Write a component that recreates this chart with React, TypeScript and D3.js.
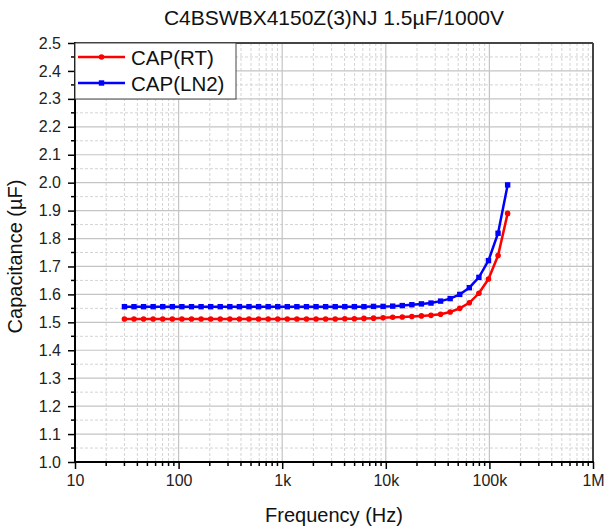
import * as d3 from "d3";
import { useEffect, useRef } from "react";

// sweep frequencies (Hz)
const freqHz = [
  30, 37.1, 45.9, 56.8, 70.3, 87.0, 107.6, 133.2, 164.8, 203.9, 252.3, 312.3,
  386.4, 478.1, 591.5, 731.9, 905.6, 1120, 1386, 1715, 2122, 2625, 3248, 4019,
  4973, 6153, 7613, 9420, 11655, 14421, 17843, 22070, 27308, 33789, 41807,
  51727, 64001, 79188, 97979, 121228, 150000,
];

// capacitance (uF) at room temperature
const capRT = [
  1.512, 1.512, 1.512, 1.512, 1.512, 1.512, 1.512, 1.512, 1.512, 1.512, 1.512,
  1.512, 1.512, 1.512, 1.512, 1.512, 1.512, 1.512, 1.512, 1.512, 1.512, 1.512,
  1.512, 1.513, 1.513, 1.514, 1.515, 1.516, 1.518, 1.519, 1.521, 1.523, 1.525,
  1.529, 1.537, 1.55, 1.57, 1.604, 1.655, 1.739, 1.89,
];

// capacitance (uF) in liquid nitrogen
const capLN2 = [
  1.556, 1.556, 1.556, 1.556, 1.556, 1.556, 1.556, 1.556, 1.556, 1.556, 1.556,
  1.556, 1.556, 1.556, 1.556, 1.556, 1.556, 1.556, 1.556, 1.556, 1.556, 1.556,
  1.556, 1.556, 1.556, 1.556, 1.557, 1.557, 1.558, 1.56, 1.563, 1.566, 1.569,
  1.576, 1.585, 1.6, 1.624, 1.661, 1.721, 1.819, 1.992,
];

const seriesNames = ["CAP(RT)", "CAP(LN2)"];
const xTickValues = [10, 100, 1000, 10000, 100000, 1000000];
const xTickLabels = ["10", "100", "1k", "10k", "100k", "1M"];
const chartTitle = "C4BSWBX4150Z(3)NJ 1.5\u00b5F/1000V";

const App = () => {
  const ref = useRef<SVGSVGElement>(null);

  useEffect(() => {
    const W = 605,
      H = 527;
    const margin = { top: 43, right: 12, bottom: 65, left: 75 };
    const width = W - margin.left - margin.right,
      height = H - margin.top - margin.bottom;
    const font = "Arial, 'Liberation Sans', sans-serif";

    const svg = d3.select(ref.current);
    svg.selectAll("*").remove();

    const x = d3.scaleLog().domain([10, 1e6]).range([0, width]);
    const y = d3.scaleLinear().domain([1.0, 2.5]).range([height, 0]);

    const g = svg
      .append("g")
      .attr("transform", `translate(${margin.left},${margin.top})`);

    // minor grid
    const xMinor: number[] = [];
    for (let dec = 10; dec < 1e6; dec *= 10)
      for (let m = 2; m <= 9; m++) xMinor.push(dec * m);
    const yMajor = d3.range(0, 16).map((i) => 1 + i * 0.1);
    const yMinor = d3.range(0, 15).map((i) => 1.05 + i * 0.1);

    g.selectAll("line.xminor")
      .data(xMinor)
      .join("line")
      .attr("x1", (d) => x(d))
      .attr("x2", (d) => x(d))
      .attr("y1", 0)
      .attr("y2", height)
      .attr("stroke", "#d4d4d4")
      .attr("stroke-dasharray", "3,2");
    g.selectAll("line.yminor")
      .data(yMinor)
      .join("line")
      .attr("x1", 0)
      .attr("x2", width)
      .attr("y1", (d) => y(d))
      .attr("y2", (d) => y(d))
      .attr("stroke", "#d4d4d4")
      .attr("stroke-dasharray", "3,2");

    // major grid
    g.selectAll("line.xmajor")
      .data(xTickValues)
      .join("line")
      .attr("x1", (d) => x(d))
      .attr("x2", (d) => x(d))
      .attr("y1", 0)
      .attr("y2", height)
      .attr("stroke", "#c4c4c4")
      .attr("stroke-width", 1.2);
    g.selectAll("line.ymajor")
      .data(yMajor)
      .join("line")
      .attr("x1", 0)
      .attr("x2", width)
      .attr("y1", (d) => y(d))
      .attr("y2", (d) => y(d))
      .attr("stroke", "#c4c4c4")
      .attr("stroke-width", 1.2);

    // frame top / right
    g.append("line")
      .attr("x1", 0)
      .attr("x2", width)
      .attr("y1", 0)
      .attr("y2", 0)
      .attr("stroke", "#444")
      .attr("stroke-width", 2);
    g.append("line")
      .attr("x1", width)
      .attr("x2", width)
      .attr("y1", 0)
      .attr("y2", height)
      .attr("stroke", "#444")
      .attr("stroke-width", 2);

    // axes
    const xAxis = g.append("g").attr("transform", `translate(0,${height})`);
    xAxis
      .call(
        d3
          .axisBottom(x)
          .tickValues(xTickValues)
          .tickFormat((_, i) => xTickLabels[i])
          .tickSize(7)
          .tickPadding(6)
      )
      .call((a) => a.select(".domain").remove());
    xAxis
      .selectAll("line.mt")
      .data(xMinor)
      .join("line")
      .attr("class", "mt")
      .attr("x1", (d) => x(d))
      .attr("x2", (d) => x(d))
      .attr("y1", 0)
      .attr("y2", 4)
      .attr("stroke", "#000")
      .attr("stroke-width", 1.5);
    xAxis.selectAll(".tick line").attr("stroke-width", 1.5);
    xAxis
      .selectAll(".tick text")
      .attr("font-family", font)
      .attr("font-size", 16)
      .attr("fill", "#222");
    xAxis
      .append("line")
      .attr("x1", -1)
      .attr("x2", width + 1)
      .attr("stroke", "#000")
      .attr("stroke-width", 2);

    const yAxis = g.append("g");
    yAxis
      .call(
        d3
          .axisLeft(y)
          .tickValues(yMajor)
          .tickFormat(d3.format(".1f"))
          .tickSize(7)
          .tickPadding(7)
      )
      .call((a) => a.select(".domain").remove());
    yAxis
      .selectAll("line.mt")
      .data(yMinor)
      .join("line")
      .attr("class", "mt")
      .attr("x1", -4)
      .attr("x2", 0)
      .attr("y1", (d) => y(d))
      .attr("y2", (d) => y(d))
      .attr("stroke", "#000")
      .attr("stroke-width", 1.5);
    yAxis.selectAll(".tick line").attr("stroke-width", 1.5);
    yAxis
      .selectAll(".tick text")
      .attr("font-family", font)
      .attr("font-size", 16)
      .attr("fill", "#222");
    yAxis
      .append("line")
      .attr("y1", -1)
      .attr("y2", height + 1)
      .attr("stroke", "#000")
      .attr("stroke-width", 2);

    // series
    const series = [
      { name: seriesNames[0], values: capRT, color: "#ff0000", marker: "circle" },
      { name: seriesNames[1], values: capLN2, color: "#0000ff", marker: "square" },
    ];
    const line = d3
      .line<number>()
      .x((_, i) => x(freqHz[i]))
      .y((d) => y(d));

    const drawMarker = (sel: any, s: any, cx: number, cy: number) => {
      if (s.marker === "circle")
        sel.append("circle").attr("cx", cx).attr("cy", cy).attr("r", 2.8).attr("fill", s.color);
      else
        sel
          .append("rect")
          .attr("x", cx - 2.7)
          .attr("y", cy - 2.7)
          .attr("width", 5.4)
          .attr("height", 5.4)
          .attr("fill", s.color);
    };

    series.forEach((s) => {
      g.append("path")
        .datum(s.values)
        .attr("d", line)
        .attr("fill", "none")
        .attr("stroke", s.color)
        .attr("stroke-width", 2.5);
      const mg = g.append("g");
      s.values.forEach((v, i) => drawMarker(mg, s, x(freqHz[i]), y(v)));
    });

    // legend
    const leg = g.append("g");
    leg
      .append("rect")
      .attr("x", 0)
      .attr("y", 0)
      .attr("width", 161)
      .attr("height", 56)
      .attr("fill", "#fff")
      .attr("stroke", "#444")
      .attr("stroke-width", 1);
    series.forEach((s, i) => {
      const ly = 14 + i * 26;
      leg
        .append("line")
        .attr("x1", 3)
        .attr("x2", 50)
        .attr("y1", ly)
        .attr("y2", ly)
        .attr("stroke", s.color)
        .attr("stroke-width", 2.5);
      drawMarker(leg, s, 26.5, ly);
      leg
        .append("text")
        .attr("x", 56)
        .attr("y", ly + 7.5)
        .attr("font-family", font)
        .attr("font-size", 20.5)
        .attr("fill", "#111")
        .text(s.name);
    });

    // title and axis labels
    svg
      .append("text")
      .attr("x", margin.left + width / 2)
      .attr("y", 25)
      .attr("text-anchor", "middle")
      .attr("font-family", font)
      .attr("font-size", 21)
      .attr("fill", "#111")
      .text(chartTitle);
    svg
      .append("text")
      .attr("x", margin.left + width / 2)
      .attr("y", 522)
      .attr("text-anchor", "middle")
      .attr("font-family", font)
      .attr("font-size", 20)
      .attr("fill", "#111")
      .text("Frequency (Hz)");
    svg
      .append("text")
      .attr("transform", `translate(22,${margin.top + height / 2 + 4}) rotate(-90)`)
      .attr("text-anchor", "middle")
      .attr("font-family", font)
      .attr("font-size", 20)
      .attr("fill", "#111")
      .text("Capacitance (\u00b5F)");
  }, []);

  return (
    <svg
      ref={ref}
      width={605}
      height={527}
      style={{ position: "absolute", left: 0, top: 0, background: "#fff" }}
    />
  );
};

export default App;
